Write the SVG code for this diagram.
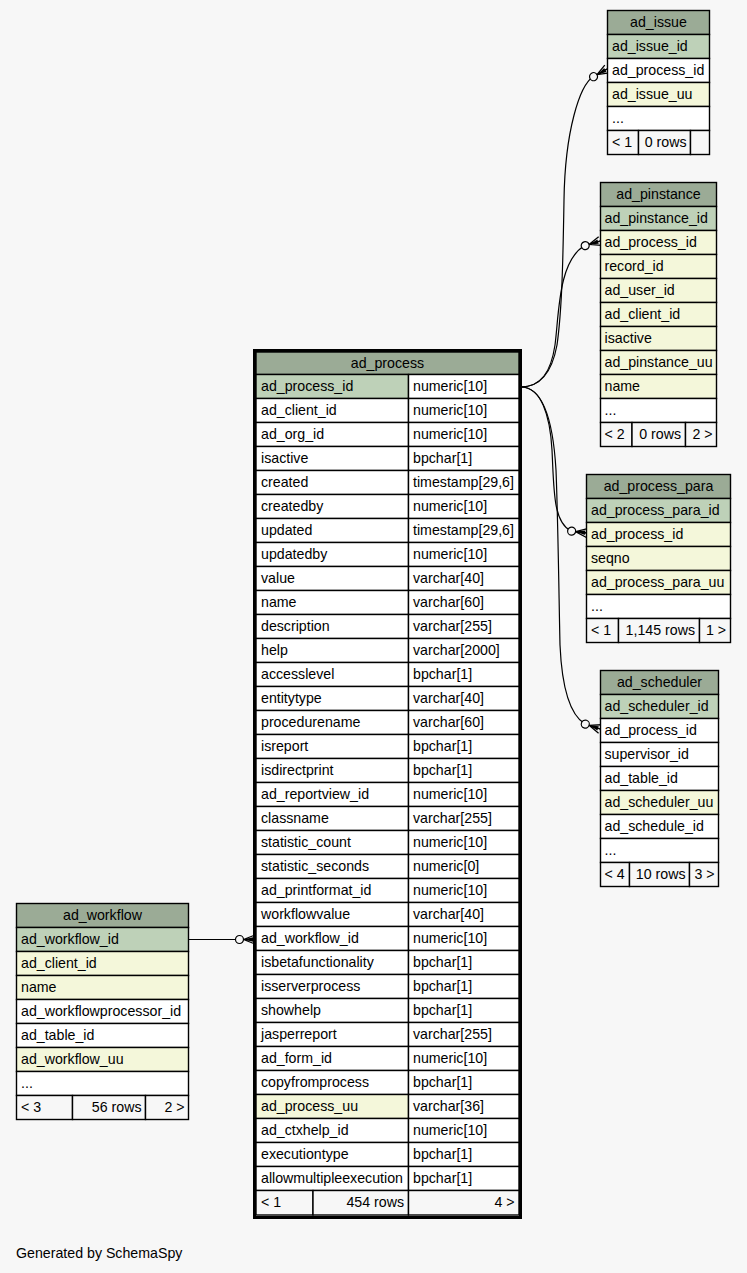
<svg xmlns="http://www.w3.org/2000/svg" width="747" height="1273" viewBox="0 0 747 1273">
<style>
text{font-family:"Liberation Sans",Arial,Helvetica,sans-serif;font-size:14.2px;fill:#000}
.c{text-anchor:middle}
.r{text-anchor:end}
.cell{stroke:#000;stroke-width:1.4}
.h{fill:#9bab96}
.pk{fill:#bed1b8}
.ix{fill:#f4f7da}
.w{fill:#ffffff}
.ft{fill:#f7f7f7}
.bd{fill:none;stroke:#000;stroke-width:3}
.e{fill:none;stroke:#000;stroke-width:1.2;marker-end:url(#crowodot)}
</style>
<defs>
<marker id="crowodot" markerUnits="userSpaceOnUse" orient="auto" overflow="visible" markerWidth="1" markerHeight="1" refX="0" refY="0">
<circle cx="-15.5" cy="0" r="4" fill="#f7f7f7" stroke="#000" stroke-width="1.2"/>
<path d="M-11.5,0 L0,-4.5 M-11.5,0 L0,0 M-11.5,0 L0,4.5" fill="none" stroke="#000" stroke-width="1.3"/>
<polygon points="-11.5,0 -2,-2.2 -2,2.2" fill="#000"/>
</marker>
</defs>
<rect x="0" y="0" width="747" height="1273" fill="#f7f7f7"/>

<g id="connectors">
<path id="e-issue" class="e" d="M521,387 C541,387 552,372 557,345 C562,310 563,260 564,200 C565,130 580,85 593,77 L607,69"/>
<path id="e-pinstance" class="e" d="M521,387 C541,387 551,372 555,345 C559,315 558,262 584,246 L600,241"/>
<path id="e-para" class="e" d="M521,387 C541,387 550,415 552,450 C554,490 553,522 571,531 L587,533"/>
<path id="e-scheduler" class="e" d="M521,387 C543,387 553,420 556,470 C558,520 559,600 560,645 C562,690 570,715 585,724 L600,729"/>
<path id="e-workflow" class="e" d="M189,939.5 L239.5,939.5 L255,939.5"/>
</g>

<g id="ad_issue">
<rect class="cell h" x="607.5" y="10.5" width="102" height="24"/>
<text class="c" x="658.5" y="27">ad_issue</text>
<rect class="cell pk" x="607.5" y="34.5" width="102" height="24"/>
<text x="612" y="51">ad_issue_id</text>
<rect class="cell w" x="607.5" y="58.5" width="102" height="24"/>
<text x="612" y="75">ad_process_id</text>
<rect class="cell ix" x="607.5" y="82.5" width="102" height="24"/>
<text x="612" y="99">ad_issue_uu</text>
<rect class="cell w" x="607.5" y="106.5" width="102" height="24"/>
<text x="612" y="123">...</text>
<rect class="cell ft" x="607.5" y="130.5" width="31" height="24"/>
<rect class="cell ft" x="638.5" y="130.5" width="52" height="24"/>
<rect class="cell ft" x="690.5" y="130.5" width="19" height="24"/>
<text x="612" y="147">&lt; 1</text>
<text class="r" x="686.5" y="147">0 rows</text>
</g>

<g id="ad_pinstance">
<rect class="cell h" x="600.5" y="182.5" width="116" height="24"/>
<text class="c" x="658.5" y="199">ad_pinstance</text>
<rect class="cell pk" x="600.5" y="206.5" width="116" height="24"/>
<text x="604.5" y="223">ad_pinstance_id</text>
<rect class="cell ix" x="600.5" y="230.5" width="116" height="24"/>
<text x="604.5" y="247">ad_process_id</text>
<rect class="cell ix" x="600.5" y="254.5" width="116" height="24"/>
<text x="604.5" y="271">record_id</text>
<rect class="cell ix" x="600.5" y="278.5" width="116" height="24"/>
<text x="604.5" y="295">ad_user_id</text>
<rect class="cell ix" x="600.5" y="302.5" width="116" height="24"/>
<text x="604.5" y="319">ad_client_id</text>
<rect class="cell ix" x="600.5" y="326.5" width="116" height="24"/>
<text x="604.5" y="343">isactive</text>
<rect class="cell ix" x="600.5" y="350.5" width="116" height="24"/>
<text x="604.5" y="367">ad_pinstance_uu</text>
<rect class="cell ix" x="600.5" y="374.5" width="116" height="24"/>
<text x="604.5" y="391">name</text>
<rect class="cell w" x="600.5" y="398.5" width="116" height="24"/>
<text x="604.5" y="415">...</text>
<rect class="cell ft" x="600.5" y="422.5" width="31.5" height="24"/>
<rect class="cell ft" x="632" y="422.5" width="53.5" height="24"/>
<rect class="cell ft" x="685.5" y="422.5" width="31" height="24"/>
<text x="604.5" y="439">&lt; 2</text>
<text class="r" x="681" y="439">0 rows</text>
<text class="r" x="712.5" y="439">2 &gt;</text>
</g>

<g id="ad_process_para">
<rect class="cell h" x="586.5" y="474.5" width="144" height="24"/>
<text class="c" x="658.5" y="491">ad_process_para</text>
<rect class="cell pk" x="586.5" y="498.5" width="144" height="24"/>
<text x="591" y="515">ad_process_para_id</text>
<rect class="cell ix" x="586.5" y="522.5" width="144" height="24"/>
<text x="591" y="539">ad_process_id</text>
<rect class="cell ix" x="586.5" y="546.5" width="144" height="24"/>
<text x="591" y="563">seqno</text>
<rect class="cell ix" x="586.5" y="570.5" width="144" height="24"/>
<text x="591" y="587">ad_process_para_uu</text>
<rect class="cell w" x="586.5" y="594.5" width="144" height="24"/>
<text x="591" y="611">...</text>
<rect class="cell ft" x="586.5" y="618.5" width="32" height="24"/>
<rect class="cell ft" x="618.5" y="618.5" width="81" height="24"/>
<rect class="cell ft" x="699.5" y="618.5" width="31" height="24"/>
<text x="591" y="635">&lt; 1</text>
<text class="r" x="695" y="635">1,145 rows</text>
<text class="r" x="726" y="635">1 &gt;</text>
</g>

<g id="ad_scheduler">
<rect class="cell h" x="600.5" y="670.5" width="118" height="24"/>
<text class="c" x="659.5" y="687">ad_scheduler</text>
<rect class="cell pk" x="600.5" y="694.5" width="118" height="24"/>
<text x="604.5" y="711">ad_scheduler_id</text>
<rect class="cell w" x="600.5" y="718.5" width="118" height="24"/>
<text x="604.5" y="735">ad_process_id</text>
<rect class="cell w" x="600.5" y="742.5" width="118" height="24"/>
<text x="604.5" y="759">supervisor_id</text>
<rect class="cell w" x="600.5" y="766.5" width="118" height="24"/>
<text x="604.5" y="783">ad_table_id</text>
<rect class="cell ix" x="600.5" y="790.5" width="118" height="24"/>
<text x="604.5" y="807">ad_scheduler_uu</text>
<rect class="cell w" x="600.5" y="814.5" width="118" height="24"/>
<text x="604.5" y="831">ad_schedule_id</text>
<rect class="cell w" x="600.5" y="838.5" width="118" height="24"/>
<text x="604.5" y="855">...</text>
<rect class="cell ft" x="600.5" y="862.5" width="29" height="24"/>
<rect class="cell ft" x="629.5" y="862.5" width="60" height="24"/>
<rect class="cell ft" x="689.5" y="862.5" width="29" height="24"/>
<text x="604.5" y="879">&lt; 4</text>
<text class="r" x="685.5" y="879">10 rows</text>
<text class="r" x="714.5" y="879">3 &gt;</text>
</g>

<g id="ad_workflow">
<rect class="cell h" x="16.5" y="903.5" width="172" height="24"/>
<text class="c" x="102.5" y="920">ad_workflow</text>
<rect class="cell pk" x="16.5" y="927.5" width="172" height="24"/>
<text x="21" y="944">ad_workflow_id</text>
<rect class="cell ix" x="16.5" y="951.5" width="172" height="24"/>
<text x="21" y="968">ad_client_id</text>
<rect class="cell ix" x="16.5" y="975.5" width="172" height="24"/>
<text x="21" y="992">name</text>
<rect class="cell w" x="16.5" y="999.5" width="172" height="24"/>
<text x="21" y="1016">ad_workflowprocessor_id</text>
<rect class="cell w" x="16.5" y="1023.5" width="172" height="24"/>
<text x="21" y="1040">ad_table_id</text>
<rect class="cell ix" x="16.5" y="1047.5" width="172" height="24"/>
<text x="21" y="1064">ad_workflow_uu</text>
<rect class="cell w" x="16.5" y="1071.5" width="172" height="24"/>
<text x="21" y="1088">...</text>
<rect class="cell ft" x="16.5" y="1095.5" width="56" height="24"/>
<rect class="cell ft" x="72.5" y="1095.5" width="73" height="24"/>
<rect class="cell ft" x="145.5" y="1095.5" width="43" height="24"/>
<text x="21" y="1112">&lt; 3</text>
<text class="r" x="141.5" y="1112">56 rows</text>
<text class="r" x="184.5" y="1112">2 &gt;</text>
</g>

<g id="ad_process">
<rect class="cell h" x="256" y="352" width="263" height="22.5"/>
<text class="c" x="387.5" y="368">ad_process</text>
<rect class="cell pk" x="256" y="374.5" width="152.5" height="24"/><rect class="cell w" x="408.5" y="374.5" width="110.5" height="24"/>
<text x="261" y="391">ad_process_id</text><text x="413" y="391">numeric[10]</text>
<rect class="cell w" x="256" y="398.5" width="152.5" height="24"/><rect class="cell w" x="408.5" y="398.5" width="110.5" height="24"/>
<text x="261" y="415">ad_client_id</text><text x="413" y="415">numeric[10]</text>
<rect class="cell w" x="256" y="422.5" width="152.5" height="24"/><rect class="cell w" x="408.5" y="422.5" width="110.5" height="24"/>
<text x="261" y="439">ad_org_id</text><text x="413" y="439">numeric[10]</text>
<rect class="cell w" x="256" y="446.5" width="152.5" height="24"/><rect class="cell w" x="408.5" y="446.5" width="110.5" height="24"/>
<text x="261" y="463">isactive</text><text x="413" y="463">bpchar[1]</text>
<rect class="cell w" x="256" y="470.5" width="152.5" height="24"/><rect class="cell w" x="408.5" y="470.5" width="110.5" height="24"/>
<text x="261" y="487">created</text><text x="413" y="487">timestamp[29,6]</text>
<rect class="cell w" x="256" y="494.5" width="152.5" height="24"/><rect class="cell w" x="408.5" y="494.5" width="110.5" height="24"/>
<text x="261" y="511">createdby</text><text x="413" y="511">numeric[10]</text>
<rect class="cell w" x="256" y="518.5" width="152.5" height="24"/><rect class="cell w" x="408.5" y="518.5" width="110.5" height="24"/>
<text x="261" y="535">updated</text><text x="413" y="535">timestamp[29,6]</text>
<rect class="cell w" x="256" y="542.5" width="152.5" height="24"/><rect class="cell w" x="408.5" y="542.5" width="110.5" height="24"/>
<text x="261" y="559">updatedby</text><text x="413" y="559">numeric[10]</text>
<rect class="cell w" x="256" y="566.5" width="152.5" height="24"/><rect class="cell w" x="408.5" y="566.5" width="110.5" height="24"/>
<text x="261" y="583">value</text><text x="413" y="583">varchar[40]</text>
<rect class="cell w" x="256" y="590.5" width="152.5" height="24"/><rect class="cell w" x="408.5" y="590.5" width="110.5" height="24"/>
<text x="261" y="607">name</text><text x="413" y="607">varchar[60]</text>
<rect class="cell w" x="256" y="614.5" width="152.5" height="24"/><rect class="cell w" x="408.5" y="614.5" width="110.5" height="24"/>
<text x="261" y="631">description</text><text x="413" y="631">varchar[255]</text>
<rect class="cell w" x="256" y="638.5" width="152.5" height="24"/><rect class="cell w" x="408.5" y="638.5" width="110.5" height="24"/>
<text x="261" y="655">help</text><text x="413" y="655">varchar[2000]</text>
<rect class="cell w" x="256" y="662.5" width="152.5" height="24"/><rect class="cell w" x="408.5" y="662.5" width="110.5" height="24"/>
<text x="261" y="679">accesslevel</text><text x="413" y="679">bpchar[1]</text>
<rect class="cell w" x="256" y="686.5" width="152.5" height="24"/><rect class="cell w" x="408.5" y="686.5" width="110.5" height="24"/>
<text x="261" y="703">entitytype</text><text x="413" y="703">varchar[40]</text>
<rect class="cell w" x="256" y="710.5" width="152.5" height="24"/><rect class="cell w" x="408.5" y="710.5" width="110.5" height="24"/>
<text x="261" y="727">procedurename</text><text x="413" y="727">varchar[60]</text>
<rect class="cell w" x="256" y="734.5" width="152.5" height="24"/><rect class="cell w" x="408.5" y="734.5" width="110.5" height="24"/>
<text x="261" y="751">isreport</text><text x="413" y="751">bpchar[1]</text>
<rect class="cell w" x="256" y="758.5" width="152.5" height="24"/><rect class="cell w" x="408.5" y="758.5" width="110.5" height="24"/>
<text x="261" y="775">isdirectprint</text><text x="413" y="775">bpchar[1]</text>
<rect class="cell w" x="256" y="782.5" width="152.5" height="24"/><rect class="cell w" x="408.5" y="782.5" width="110.5" height="24"/>
<text x="261" y="799">ad_reportview_id</text><text x="413" y="799">numeric[10]</text>
<rect class="cell w" x="256" y="806.5" width="152.5" height="24"/><rect class="cell w" x="408.5" y="806.5" width="110.5" height="24"/>
<text x="261" y="823">classname</text><text x="413" y="823">varchar[255]</text>
<rect class="cell w" x="256" y="830.5" width="152.5" height="24"/><rect class="cell w" x="408.5" y="830.5" width="110.5" height="24"/>
<text x="261" y="847">statistic_count</text><text x="413" y="847">numeric[10]</text>
<rect class="cell w" x="256" y="854.5" width="152.5" height="24"/><rect class="cell w" x="408.5" y="854.5" width="110.5" height="24"/>
<text x="261" y="871">statistic_seconds</text><text x="413" y="871">numeric[0]</text>
<rect class="cell w" x="256" y="878.5" width="152.5" height="24"/><rect class="cell w" x="408.5" y="878.5" width="110.5" height="24"/>
<text x="261" y="895">ad_printformat_id</text><text x="413" y="895">numeric[10]</text>
<rect class="cell w" x="256" y="902.5" width="152.5" height="24"/><rect class="cell w" x="408.5" y="902.5" width="110.5" height="24"/>
<text x="261" y="919">workflowvalue</text><text x="413" y="919">varchar[40]</text>
<rect class="cell w" x="256" y="926.5" width="152.5" height="24"/><rect class="cell w" x="408.5" y="926.5" width="110.5" height="24"/>
<text x="261" y="943">ad_workflow_id</text><text x="413" y="943">numeric[10]</text>
<rect class="cell w" x="256" y="950.5" width="152.5" height="24"/><rect class="cell w" x="408.5" y="950.5" width="110.5" height="24"/>
<text x="261" y="967">isbetafunctionality</text><text x="413" y="967">bpchar[1]</text>
<rect class="cell w" x="256" y="974.5" width="152.5" height="24"/><rect class="cell w" x="408.5" y="974.5" width="110.5" height="24"/>
<text x="261" y="991">isserverprocess</text><text x="413" y="991">bpchar[1]</text>
<rect class="cell w" x="256" y="998.5" width="152.5" height="24"/><rect class="cell w" x="408.5" y="998.5" width="110.5" height="24"/>
<text x="261" y="1015">showhelp</text><text x="413" y="1015">bpchar[1]</text>
<rect class="cell w" x="256" y="1022.5" width="152.5" height="24"/><rect class="cell w" x="408.5" y="1022.5" width="110.5" height="24"/>
<text x="261" y="1039">jasperreport</text><text x="413" y="1039">varchar[255]</text>
<rect class="cell w" x="256" y="1046.5" width="152.5" height="24"/><rect class="cell w" x="408.5" y="1046.5" width="110.5" height="24"/>
<text x="261" y="1063">ad_form_id</text><text x="413" y="1063">numeric[10]</text>
<rect class="cell w" x="256" y="1070.5" width="152.5" height="24"/><rect class="cell w" x="408.5" y="1070.5" width="110.5" height="24"/>
<text x="261" y="1087">copyfromprocess</text><text x="413" y="1087">bpchar[1]</text>
<rect class="cell ix" x="256" y="1094.5" width="152.5" height="24"/><rect class="cell w" x="408.5" y="1094.5" width="110.5" height="24"/>
<text x="261" y="1111">ad_process_uu</text><text x="413" y="1111">varchar[36]</text>
<rect class="cell w" x="256" y="1118.5" width="152.5" height="24"/><rect class="cell w" x="408.5" y="1118.5" width="110.5" height="24"/>
<text x="261" y="1135">ad_ctxhelp_id</text><text x="413" y="1135">numeric[10]</text>
<rect class="cell w" x="256" y="1142.5" width="152.5" height="24"/><rect class="cell w" x="408.5" y="1142.5" width="110.5" height="24"/>
<text x="261" y="1159">executiontype</text><text x="413" y="1159">bpchar[1]</text>
<rect class="cell w" x="256" y="1166.5" width="152.5" height="24"/><rect class="cell w" x="408.5" y="1166.5" width="110.5" height="24"/>
<text x="261" y="1183">allowmultipleexecution</text><text x="413" y="1183">bpchar[1]</text>
<rect class="cell ft" x="256" y="1190.5" width="57" height="24.5"/>
<rect class="cell ft" x="313" y="1190.5" width="95.5" height="24.5"/>
<rect class="cell ft" x="408.5" y="1190.5" width="110.5" height="24.5"/>
<text x="261" y="1207">&lt; 1</text>
<text class="r" x="404" y="1207">454 rows</text>
<text class="r" x="514.5" y="1207">4 &gt;</text>
<rect class="bd" x="254.5" y="350.5" width="266" height="867"/>
</g>

<text x="16" y="1258">Generated by SchemaSpy</text>
</svg>
